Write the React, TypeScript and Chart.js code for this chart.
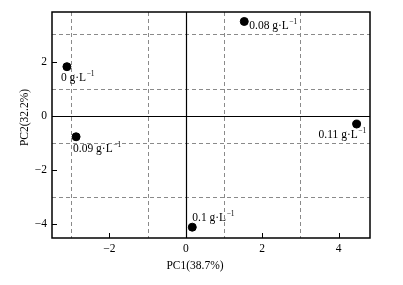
import React, { useEffect, useRef } from "react";
import { Chart, registerables } from "chart.js";

Chart.register(...registerables);

const labels = ["0 g·L", "0.08 g·L", "0.11 g·L", "0.09 g·L", "0.1 g·L"];
const pc1 = [-3.11, 1.53, 4.47, -2.87, 0.17];
const pc2 = [1.81, 3.48, -0.31, -0.78, -4.12];
const xTicks = [-2, 0, 2, 4];
const yTicks = [-4, -2, 0, 2];
const xGrid = [-3, -1, 1, 3];
const yGrid = [-3, -1, 1, 3];
const xTitle = "PC1(38.7%)";
const yTitle = "PC2(32.2%)";

// label placement relative to each point (px): [dx, dy]
const labelOffsets: [number, number][] = [
  [-6, 11],
  [5, 5],
  [-38, 11],
  [-3, 12],
  [0, -9],
];

const FONT = "'Liberation Serif', 'Times New Roman', serif";

const overlay = {
  id: "overlay",
  beforeDatasetsDraw(chart: any) {
    const { ctx, chartArea: a, scales } = chart;
    const xs = scales.x, ys = scales.y;
    ctx.save();
    ctx.strokeStyle = "#8a8a8a";
    ctx.lineWidth = 1;
    ctx.setLineDash([4, 3]);
    xGrid.forEach((v) => {
      const px = Math.round(xs.getPixelForValue(v)) + 0.5;
      ctx.beginPath(); ctx.moveTo(px, a.top); ctx.lineTo(px, a.bottom); ctx.stroke();
    });
    yGrid.forEach((v) => {
      const py = Math.round(ys.getPixelForValue(v)) + 0.5;
      ctx.beginPath(); ctx.moveTo(a.left, py); ctx.lineTo(a.right, py); ctx.stroke();
    });
    ctx.setLineDash([]);
    ctx.strokeStyle = "#000";
    ctx.lineWidth = 1.2;
    const x0 = Math.round(xs.getPixelForValue(0)) + 0.5;
    const y0 = Math.round(ys.getPixelForValue(0)) + 0.5;
    ctx.beginPath(); ctx.moveTo(x0, a.top); ctx.lineTo(x0, a.bottom); ctx.stroke();
    ctx.beginPath(); ctx.moveTo(a.left, y0); ctx.lineTo(a.right, y0); ctx.stroke();
    // frame
    ctx.lineWidth = 1.5;
    ctx.strokeRect(a.left, a.top, a.right - a.left, a.bottom - a.top);
    // inward ticks
    ctx.lineWidth = 1;
    xTicks.forEach((v) => {
      const px = Math.round(xs.getPixelForValue(v)) + 0.5;
      ctx.beginPath(); ctx.moveTo(px, a.bottom); ctx.lineTo(px, a.bottom - 5); ctx.stroke();
    });
    yTicks.forEach((v) => {
      const py = Math.round(ys.getPixelForValue(v)) + 0.5;
      ctx.beginPath(); ctx.moveTo(a.left, py); ctx.lineTo(a.left + 5, py); ctx.stroke();
    });
    // axis titles
    ctx.fillStyle = "#000";
    ctx.font = `11.5px ${FONT}`;
    ctx.textAlign = "center";
    ctx.textBaseline = "middle";
    ctx.fillText(xTitle, 195, 266);
    ctx.translate(25, 117.5);
    ctx.rotate(-Math.PI / 2);
    ctx.fillText(yTitle, 0, 0);
    ctx.restore();
  },
  afterDatasetsDraw(chart: any) {
    const { ctx } = chart;
    const meta = chart.getDatasetMeta(0);
    ctx.save();
    ctx.fillStyle = "#000";
    ctx.textBaseline = "middle";
    meta.data.forEach((pt: any, i: number) => {
      const [dx, dy] = labelOffsets[i];
      const x = pt.x + dx, y = pt.y + dy;
      ctx.font = `11.5px ${FONT}`;
      ctx.fillText(labels[i], x, y);
      const w = ctx.measureText(labels[i]).width;
      ctx.font = `7.5px ${FONT}`;
      ctx.fillText("−1", x + w + 0.5, y - 4);
    });
    ctx.restore();
  },
};

export default function App() {
  const ref = useRef<HTMLCanvasElement>(null);
  useEffect(() => {
    document.body.style.margin = "0";
    const chart = new Chart(ref.current!, {
      type: "scatter",
      data: {
        datasets: [
          {
            data: pc1.map((x, i) => ({ x, y: pc2[i] })),
            backgroundColor: "#000",
            borderColor: "#000",
            pointRadius: 4,
          },
        ],
      },
      options: {
        animation: false,
        responsive: false,
        layout: { padding: { top: 12, right: 33, left: 0, bottom: 0 } },
        plugins: { legend: { display: false }, tooltip: { enabled: false } },
        scales: {
          x: {
            type: "linear",
            min: -3.5,
            max: 4.82,
            afterBuildTicks: (s: any) => { s.ticks = xTicks.map((v) => ({ value: v })); },
            afterFit: (s: any) => { s.height = 47; },
            grid: { display: false, drawTicks: false },
            border: { display: false },
            ticks: { color: "#000", font: { family: FONT, size: 11.5 }, padding: 4,
              callback: (v: any) => (v < 0 ? "−" + Math.abs(v) : String(v)) },
          },
          y: {
            type: "linear",
            min: -4.52,
            max: 3.83,
            afterBuildTicks: (s: any) => { s.ticks = yTicks.map((v) => ({ value: v })); },
            afterFit: (s: any) => { s.width = 52; },
            grid: { display: false, drawTicks: false },
            border: { display: false },
            ticks: { color: "#000", font: { family: FONT, size: 11.5 }, padding: 5,
              callback: (v: any) => (v < 0 ? "−" + Math.abs(v) : String(v)) },
          },
        },
      },
      plugins: [overlay],
    });
    return () => chart.destroy();
  }, []);
  return (
    <div style={{ width: 403, height: 285, background: "#fff" }}>
      <canvas ref={ref} width={403} height={285} style={{ display: "block" }} />
    </div>
  );
}
